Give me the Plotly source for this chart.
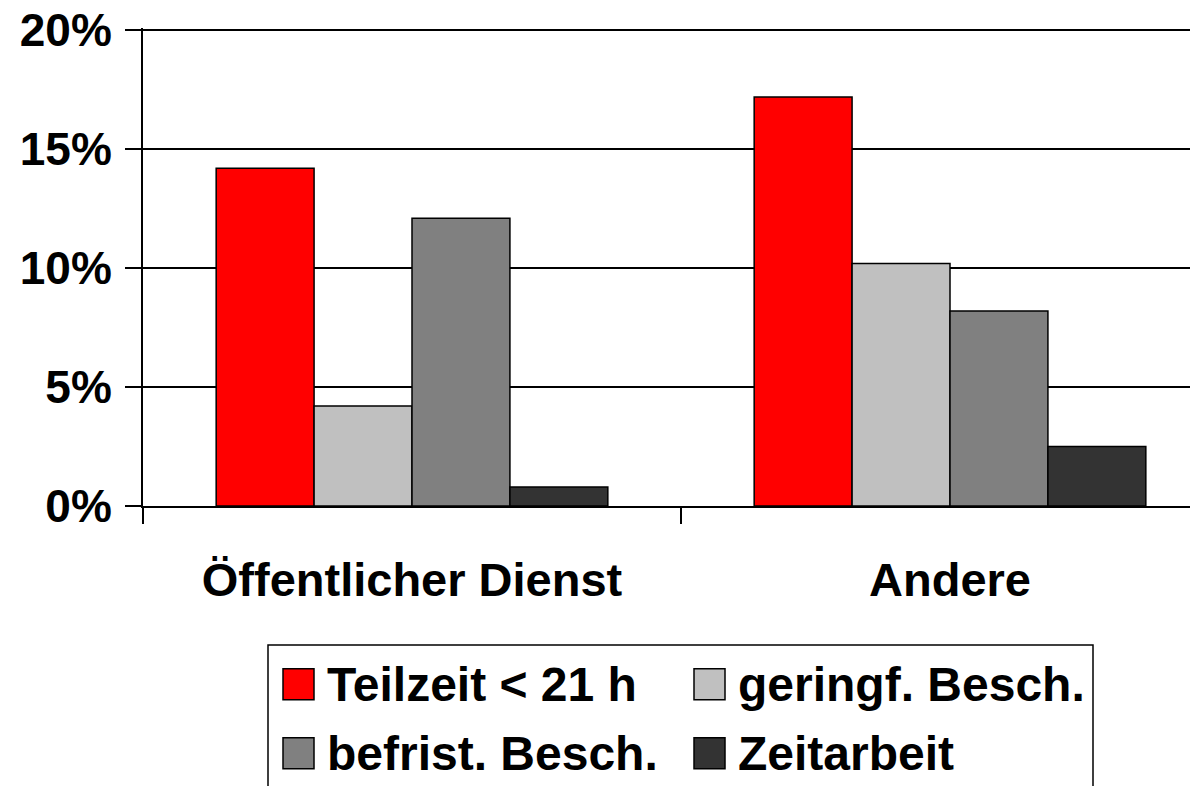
import plotly.graph_objects as go

categories = ["Öffentlicher Dienst", "Andere"]
series_names = ["Teilzeit < 21 h", "geringf. Besch.", "befrist. Besch.", "Zeitarbeit"]
teilzeit = [14.2, 17.2]
geringf = [4.2, 10.2]
befrist = [12.1, 8.2]
zeitarbeit = [0.8, 2.5]
colors = ["#FF0000", "#C0C0C0", "#808080", "#333333"]
y_ticks = [0, 5, 10, 15, 20]
y_tick_labels = ["0%", "5%", "10%", "15%", "20%"]

OFF = 8  # default page body margin
YMAX = 20.1
W, H = 1198 - OFF, 786 - OFF
L, R = 143 - OFF, 0
B = H - (506 - OFF)
PH = (506 - 30) / 20.0 * YMAX
T = H - B - PH
PW = W - L - R
FONT = "Liberation Sans, Arial, sans-serif"


def px(xp):
    return (xp - OFF - L) / PW


def py(yp):
    return (H - B - (yp - OFF)) / PH


fig = go.Figure()
for name, vals, col in zip(series_names, [teilzeit, geringf, befrist, zeitarbeit], colors):
    fig.add_trace(go.Bar(
        x=categories, y=vals, name=name,
        marker=dict(color=col, line=dict(color="black", width=1.5)),
        showlegend=False,
    ))

# manual legend (box, swatches, labels)
shapes = [dict(type="rect", xref="paper", yref="paper",
               x0=px(268), x1=px(1093), y0=py(830), y1=py(645),
               line=dict(color="black", width=1.5), fillcolor="rgba(0,0,0,0)")]
annotations = []
slots = [(283, 669), (694, 669), (283, 738), (694, 738)]
for (sx, sy), name, col in zip(slots, series_names, colors):
    shapes.append(dict(type="rect", xref="paper", yref="paper",
                       x0=px(sx), x1=px(sx + 31), y0=py(sy + 31), y1=py(sy),
                       line=dict(color="black", width=1.5), fillcolor=col))
    annotations.append(dict(xref="paper", yref="paper", x=px(sx + 42), y=py(sy + 16),
                            xanchor="left", yanchor="middle", showarrow=False,
                            text=name,
                            font=dict(family=FONT, size=48, color="black", weight=700)))

fig.update_layout(
    width=W, height=H,
    margin=dict(l=L, r=R, t=T, b=B, autoexpand=False),
    paper_bgcolor="white", plot_bgcolor="white",
    barmode="group", bargap=0.272, bargroupgap=0,
    shapes=shapes, annotations=annotations,
    font=dict(family=FONT, size=46, color="black", weight=700),
)
fig.update_xaxes(
    type="category", range=[-0.5, -0.5 + PW / 538.0], automargin=False,
    showline=True, linecolor="black", linewidth=2,
    ticks="outside", ticklen=16, tickwidth=2, tickcolor="black",
    tickson="boundaries", showgrid=False,
    tickfont=dict(family=FONT, size=47, color="black", weight=700),
    ticklabelstandoff=32,
)
fig.update_yaxes(
    range=[0, YMAX], tickvals=y_ticks, ticktext=y_tick_labels, automargin=False,
    showline=True, linecolor="black", linewidth=2,
    ticks="outside", ticklen=16, tickwidth=2, tickcolor="black",
    showgrid=True, gridcolor="black", gridwidth=2, zeroline=False,
    tickfont=dict(family=FONT, size=46, color="black", weight=700),
    ticklabelstandoff=4, ticklabeloverflow="allow",
)

fig.write_html("out.html")
